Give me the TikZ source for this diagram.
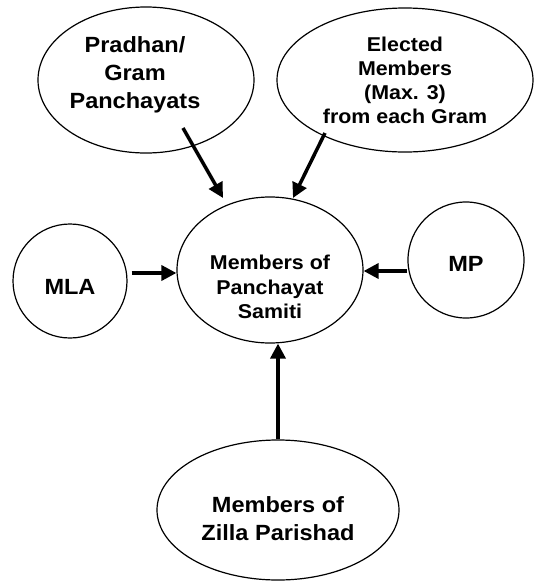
\documentclass[tikz,border=0pt]{standalone}
\usepackage{fontspec}
\setmainfont[FakeStretch=1.07]{Liberation Sans}
\usetikzlibrary{arrows.meta,shapes.geometric}
\begin{document}
\begin{tikzpicture}[x=1pt, y=-1pt,
		oval/.style = {ellipse, draw=black, line width=1.2pt, inner sep=0pt},
		ring/.style = {circle, draw=black, line width=1.2pt, inner sep=0pt},
		big/.style = {align=center, font=\bfseries\fontsize{22}{28}\selectfont},
		mid/.style = {align=center, font=\bfseries\fontsize{20}{24.5}\selectfont},
		small/.style = {align=center, font=\bfseries\fontsize{20}{24}\selectfont},
		arr/.style = {-{Triangle[length=15pt, width=15pt]}, line width=3.5pt}
		]
		\useasboundingbox (0, 0) rectangle (539, 582);
		
		%Nodes
		\node[oval, minimum width=216, minimum height=146,
			label={[big, xshift=-11pt, yshift=5pt]center:{Pradhan/\\Gram\\Panchayats}}]	(pradhan)	at	(146, 80)	{};
		\node[oval, minimum width=256, minimum height=144,
			label={[small]center:{Elected\\Members\\(Max. 3)\\from each Gram}}]	(elected)	at	(405, 80)	{};
		\node[oval, minimum width=186, minimum height=146,
			label={[mid, yshift=-17pt]center:{Members of\\Panchayat\\Samiti}}]	(samiti)	at	(270, 270)	{};
		\node[ring, minimum size=114,
			label={[big, yshift=-6pt]center:MLA}]	(mla)	at	(70, 281)	{};
		\node[ring, minimum size=116,
			label={[big, yshift=-4pt]center:MP}]	(mp)	at	(466, 260)	{};
		\node[oval, minimum width=242, minimum height=140,
			label={[big, yshift=-9pt]center:{Members of\\Zilla Parishad}}]	(zilla)	at	(278, 510)	{};
		\coordinate	(pa)	at	(183, 128);
		\coordinate	(pb)	at	(223, 198);
		\coordinate	(ea)	at	(325, 133);
		\coordinate	(eb)	at	(293, 198);
		
		%Lines
		\draw[arr]	(pa)	--	(pb);
		\draw[arr]	(ea)	--	(eb);
		\draw[arr]	([xshift=4pt, yshift=8pt]mla.east)	--	([yshift=8pt]mla.east -| samiti.west);
		\draw[arr]	([yshift=-11pt]mp.west)	--	([yshift=-11pt]mp.west -| samiti.east);
		\draw[arr]	(zilla.north)	--	(zilla.north |- samiti.south);
	\end{tikzpicture}
\end{document}
